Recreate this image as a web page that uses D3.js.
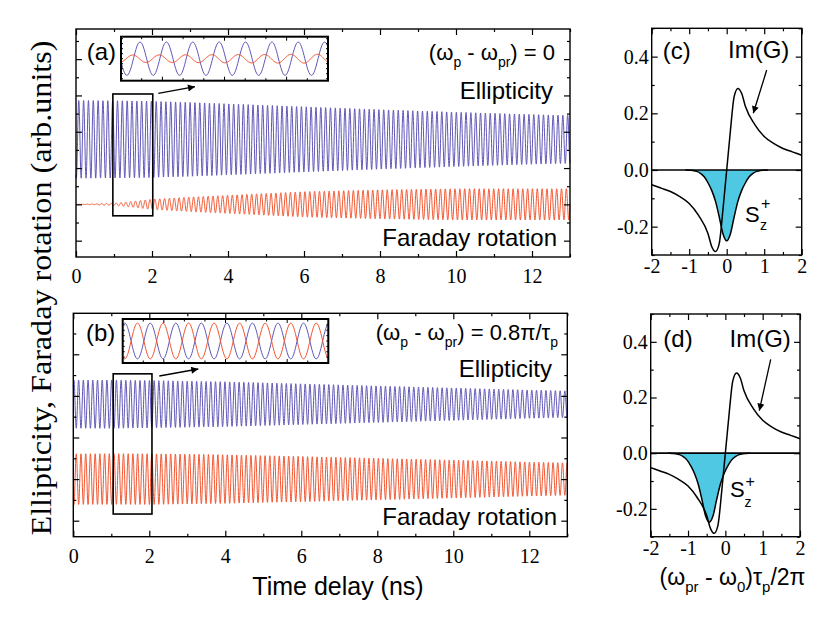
<!DOCTYPE html>
<html>
<head>
<meta charset="utf-8">
<script src="https://cdn.jsdelivr.net/npm/d3@7"></script>
<style>
body { margin: 0; background: #fff; }
</style>
</head>
<body>
<script>
// ---- values ----
// envelope of the oscillations (arb. units) at these delays (ns)
var tEnv   = [0, 0.5, 1, 1.5, 2, 3, 4, 6, 8, 10, 12, 13];
var ellipA = [1.07, 1.07, 1.065, 1.06, 1.05, 1.02, 0.98, 0.90, 0.82, 0.75, 0.685, 0.66];
var faradA = [0, 0.01, 0.03, 0.08, 0.14, 0.20, 0.25, 0.35, 0.40, 0.43, 0.43, 0.43];
var ellipB = [0.58, 0.58, 0.58, 0.575, 0.57, 0.555, 0.54, 0.49, 0.44, 0.39, 0.34, 0.32];
var faradB = [0.61, 0.61, 0.61, 0.61, 0.61, 0.60, 0.585, 0.545, 0.50, 0.457, 0.41, 0.39];
var centers = {ellipA: 2.79, faradA: 1.0, ellipB: 2.8, faradB: 1.0};
// carrier: cycles per ns and time of a maximum, counted on the insets
var freqA = 7.85, peakEllA = 1.092, peakFarA = 1.057;
var freqB = 8.05, peakEllB = 1.134, peakFarB = 1.072;
// insets (1..2 ns, rescaled)
var insetT = [1, 2];
var insetFarA = [0.22, 0.27];

// (c),(d): Im(G) and S_z+ against (w_pr - w_0) tau_p / 2pi
var imGX = [-2, -1.75, -1.5, -1.25, -1, -0.75, -0.5, -0.4, -0.3, -0.2, -0.1, -0.05, 0, 0.05, 0.1, 0.2, 0.3, 0.4, 0.5, 0.75, 1, 1.25, 1.5, 1.75, 2];
var imG  = [-0.052, -0.064, -0.076, -0.094, -0.118, -0.16, -0.224, -0.27, -0.288, -0.26, -0.14, -0.07, 0, 0.07, 0.14, 0.26, 0.288, 0.27, 0.224, 0.16, 0.118, 0.094, 0.076, 0.064, 0.052];
var szCX = [-1.1, -1, -0.9, -0.8, -0.7, -0.6, -0.5, -0.4, -0.3, -0.2, -0.1, 0, 0.1, 0.2, 0.3, 0.4, 0.5, 0.6, 0.7, 0.8, 0.9, 1, 1.1];
var szC  = [0, -0.001, -0.002, -0.005, -0.012, -0.024, -0.045, -0.072, -0.11, -0.165, -0.225, -0.25, -0.225, -0.165, -0.11, -0.072, -0.045, -0.024, -0.012, -0.005, -0.002, -0.001, 0];
var szDX = [-1.53, -1.43, -1.33, -1.23, -1.13, -1.03, -0.93, -0.83, -0.73, -0.63, -0.53, -0.43, -0.33, -0.23, -0.13, -0.03, 0.07, 0.17, 0.27, 0.37, 0.47, 0.57, 0.67];
var szD  = [0, -0.001, -0.002, -0.005, -0.012, -0.024, -0.045, -0.072, -0.11, -0.165, -0.225, -0.248, -0.225, -0.165, -0.11, -0.072, -0.045, -0.024, -0.012, -0.005, -0.002, -0.001, 0];

var timeTicks = [0, 2, 4, 6, 8, 10, 12],
    timeMinor = [1, 3, 5, 7, 9, 11, 13],
    detTicks = [-2, -1, 0, 1, 2],
    detMinor = [-1.5, -0.5, 0.5, 1.5],
    gTicks = [0.4, 0.2, 0.0, -0.2],
    gMinor = [0.5, 0.3, 0.1, -0.1, -0.3];

var sans = "'Liberation Sans', Arial, Helvetica, sans-serif",
    serif = "'Liberation Serif', 'Times New Roman', serif";
var blue = "#6057b8", red = "#f4552f", cyan = "#4fc8e3";

var svg = d3.select("body").append("svg")
    .attr("width", 830)
    .attr("height", 626)
    .style("background", "#fff");

svg.append("defs").append("marker")
    .attr("id", "head")
    .attr("viewBox", "0 0 10 10")
    .attr("refX", 10).attr("refY", 5)
    .attr("markerWidth", 10).attr("markerHeight", 7)
    .attr("markerUnits", "userSpaceOnUse")
    .attr("orient", "auto")
  .append("path")
    .attr("d", "M0,0 L10,5 L0,10 Z")
    .attr("fill", "#000");

// text with subscripts: parts = [[string, "sub"|""], ...]
function richText(x, y, anchor, size, parts) {
    var t = svg.append("text")
        .attr("x", x).attr("y", y)
        .attr("text-anchor", anchor)
        .attr("font-family", sans)
        .attr("font-size", size);
    var shift = 0;
    parts.forEach(function(p) {
        var want = p[1] === "sub" ? Math.round(size * 0.3) : 0;
        var ts = t.append("tspan").attr("dy", want - shift).text(p[0]);
        if (p[1] === "sub") ts.attr("font-size", Math.round(size * 0.65));
        shift = want;
    });
    return t;
}

function label(x, y, anchor, size, str) {
    return svg.append("text")
        .attr("x", x).attr("y", y)
        .attr("text-anchor", anchor)
        .attr("font-family", sans)
        .attr("font-size", size)
        .text(str);
}

function arrow(x1, y1, x2, y2) {
    svg.append("line")
        .attr("x1", x1).attr("y1", y1).attr("x2", x2).attr("y2", y2)
        .attr("stroke", "#000").attr("stroke-width", 1.3)
        .attr("marker-end", "url(#head)");
}

function styleAxis(g, size) {
    g.select(".domain").remove();
    g.selectAll("line").attr("stroke-width", 1.2);
    g.attr("font-family", serif).attr("font-size", size);
    g.selectAll("text").attr("fill", "#000");
}

// frame with inward ticks on all sides
function frame(p, x, y, xMaj, xMin, yMaj, yMin, opts) {
    svg.append("g").attr("transform", "translate(0," + p.bottom + ")")
        .call(d3.axisBottom(x).tickValues(xMaj).tickSize(-6).tickPadding(opts.xPad)
              .tickFormat(function(d) { return String(d).replace("\u2212", "-"); }))
        .call(styleAxis, opts.size);
    svg.append("g").attr("transform", "translate(0," + p.bottom + ")")
        .call(d3.axisBottom(x).tickValues(xMin).tickSize(-3).tickFormat(""))
        .call(styleAxis, opts.size);
    svg.append("g").attr("transform", "translate(0," + p.top + ")")
        .call(d3.axisTop(x).tickValues(xMaj).tickSize(-6).tickFormat(""))
        .call(styleAxis, opts.size);
    svg.append("g").attr("transform", "translate(0," + p.top + ")")
        .call(d3.axisTop(x).tickValues(xMin).tickSize(-3).tickFormat(""))
        .call(styleAxis, opts.size);
    var yl = d3.axisLeft(y).tickValues(yMaj).tickSize(-6).tickPadding(opts.yPad);
    if (opts.yFormat) yl.tickFormat(opts.yFormat); else yl.tickFormat("");
    svg.append("g").attr("transform", "translate(" + p.left + ",0)")
        .call(yl).call(styleAxis, opts.size);
    svg.append("g").attr("transform", "translate(" + p.left + ",0)")
        .call(d3.axisLeft(y).tickValues(yMin).tickSize(-3).tickFormat(""))
        .call(styleAxis, opts.size);
    svg.append("g").attr("transform", "translate(" + p.right + ",0)")
        .call(d3.axisRight(y).tickValues(yMaj).tickSize(-6).tickFormat(""))
        .call(styleAxis, opts.size);
    svg.append("g").attr("transform", "translate(" + p.right + ",0)")
        .call(d3.axisRight(y).tickValues(yMin).tickSize(-3).tickFormat(""))
        .call(styleAxis, opts.size);
    svg.append("rect")
        .attr("x", p.left).attr("y", p.top)
        .attr("width", p.right - p.left).attr("height", p.bottom - p.top)
        .attr("fill", "none").attr("stroke", "#000").attr("stroke-width", 1.4);
}

// oscillation: center + envelope(t) * cos(2 pi f (t - tPeak))
function wave(center, amps, freq, tPeak, t0, t1, envT) {
    var env = d3.scaleLinear().domain(envT || tEnv).range(amps).clamp(true);
    var pts = [];
    for (var t = t0; t <= t1 + 1e-9; t += 0.004) {
        pts.push([t, center + env(t) * Math.cos(2 * Math.PI * freq * (t - tPeak))]);
    }
    return pts;
}

// ---------- time panels (a) and (b) ----------
var panels = [
    {id: "a", left: 76, right: 570, top: 29, bottom: 257, yDom: [-0.45, 5.83],
     ell: ellipA, far: faradA, cE: centers.ellipA, cF: centers.faradA,
     f: freqA, pE: peakEllA, pF: peakFarA,
     inset: {left: 121, right: 328, top: 36.7, bottom: 80.7, dom: 1.32, farAmp: insetFarA},
     box: [0.97, 2.02, 0.685, 4.04], arrow: [158.3, 93.3, 195, 86.7]},
    {id: "b", left: 73.3, right: 567.3, top: 313.3, bottom: 536.7, yDom: [-0.385, 4.985],
     ell: ellipB, far: faradB, cE: centers.ellipB, cF: centers.faradB,
     f: freqB, pE: peakEllB, pF: peakFarB,
     inset: {left: 122.7, right: 328.3, top: 319, bottom: 363, dom: 1.23, farAmp: [1, 1]},
     box: [1.05, 2.07, 0.16, 3.53], arrow: [159.3, 376, 198.3, 369]}
];

panels.forEach(function(p) {
    var x = d3.scaleLinear().domain([0, 13]).range([p.left, p.right]);
    var y = d3.scaleLinear().domain(p.yDom).range([p.bottom, p.top]);
    var line = d3.line().x(function(d) { return x(d[0]); }).y(function(d) { return y(d[1]); });

    svg.append("path").datum(wave(p.cE, p.ell, p.f, p.pE, 0, 13))
        .attr("d", line).attr("fill", "none").attr("stroke", blue).attr("stroke-width", 1);
    svg.append("path").datum(wave(p.cF, p.far, p.f, p.pF, 0, 13))
        .attr("d", line).attr("fill", "none").attr("stroke", red).attr("stroke-width", 1);

    frame(p, x, y, timeTicks, timeMinor,
          d3.range(0, p.yDom[1], 1), d3.range(0.5, p.yDom[1], 1),
          {size: 20, xPad: 12, yPad: 3});

    // zoom box and arrow
    svg.append("rect")
        .attr("x", x(p.box[0])).attr("y", y(p.box[3]))
        .attr("width", x(p.box[1]) - x(p.box[0])).attr("height", y(p.box[2]) - y(p.box[3]))
        .attr("fill", "none").attr("stroke", "#000").attr("stroke-width", 1.6);
    arrow(p.arrow[0], p.arrow[1], p.arrow[2], p.arrow[3]);

    // inset: 1..2 ns, both traces centered
    var ins = p.inset;
    var xi = d3.scaleLinear().domain(insetT).range([ins.left, ins.right]);
    var yi = d3.scaleLinear().domain([-ins.dom, ins.dom]).range([ins.bottom, ins.top]);
    var li = d3.line().x(function(d) { return xi(d[0]); }).y(function(d) { return yi(d[1]); });
    svg.append("rect")
        .attr("x", ins.left).attr("y", ins.top)
        .attr("width", ins.right - ins.left).attr("height", ins.bottom - ins.top)
        .attr("fill", "#fff");
    svg.append("path").datum(wave(0, [1, 1], p.f, p.pE, 1, 2, insetT))
        .attr("d", li).attr("fill", "none").attr("stroke", blue).attr("stroke-width", 1);
    svg.append("path").datum(wave(0, ins.farAmp, p.f, p.pF, 1, 2, insetT))
        .attr("d", li).attr("fill", "none").attr("stroke", red).attr("stroke-width", 1);
    var tickG = svg.append("g").attr("stroke", "#000").attr("stroke-width", 1);
    d3.range(1.1, 2, 0.1).forEach(function(t) {
        var len = Math.abs(t - 1.5) < 0.01 || Math.abs(t - 1.2) < 0.01 || Math.abs(t - 1.8) < 0.01 ? 4 : 2.5;
        tickG.append("line").attr("x1", xi(t)).attr("x2", xi(t)).attr("y1", ins.bottom).attr("y2", ins.bottom - len);
        tickG.append("line").attr("x1", xi(t)).attr("x2", xi(t)).attr("y1", ins.top).attr("y2", ins.top + len);
    });
    d3.range(-1.2, 1.21, 0.3).forEach(function(v) {
        tickG.append("line").attr("x1", ins.left).attr("x2", ins.left + 2).attr("y1", yi(v)).attr("y2", yi(v));
        tickG.append("line").attr("x1", ins.right).attr("x2", ins.right - 2).attr("y1", yi(v)).attr("y2", yi(v));
    });
    svg.append("rect")
        .attr("x", ins.left).attr("y", ins.top)
        .attr("width", ins.right - ins.left).attr("height", ins.bottom - ins.top)
        .attr("fill", "none").attr("stroke", "#000").attr("stroke-width", 2);
});

// panel texts
label(86.7, 60, "start", 24, "(a)");
richText(555, 60, "end", 22, [["(\u03c9", ""], ["p", "sub"], [" - \u03c9", ""], ["pr", "sub"], [") = 0", ""]]);
label(553, 99, "end", 24, "Ellipticity");
label(557, 246, "end", 24, "Faraday rotation");

label(86, 341, "start", 24, "(b)");
richText(558, 340, "end", 22, [["(\u03c9", ""], ["p", "sub"], [" - \u03c9", ""], ["pr", "sub"], [") = 0.8\u03c0/\u03c4", ""], ["p", "sub"]]);
label(552, 377, "end", 24, "Ellipticity");
label(557, 525, "end", 24, "Faraday rotation");

label(338, 595, "middle", 25, "Time delay (ns)");

svg.append("text")
    .attr("transform", "translate(51,288) rotate(-90)")
    .attr("text-anchor", "middle")
    .attr("font-family", serif)
    .attr("font-size", 30)
    .attr("textLength", 495)
    .attr("lengthAdjust", "spacingAndGlyphs")
    .text("Ellipticity, Faraday rotation (arb.units)");

// ---------- spectral panels (c) and (d) ----------
var spec = [
    {left: 651.7, right: 801.7, top: 28.3, bottom: 255, szX: szCX, sz: szC},
    {left: 650.7, right: 800, top: 314, bottom: 536.7, szX: szDX, sz: szD}
];

spec.forEach(function(p) {
    var x = d3.scaleLinear().domain([-2, 2]).range([p.left, p.right]);
    var y = d3.scaleLinear().domain([-0.3, 0.5]).range([p.bottom, p.top]);
    var szData = p.szX.map(function(v, i) { return [v, p.sz[i]]; });
    var gData = imGX.map(function(v, i) { return [v, imG[i]]; });

    svg.append("path").datum(szData)
        .attr("d", d3.area().curve(d3.curveMonotoneX)
            .x(function(d) { return x(d[0]); }).y0(y(0)).y1(function(d) { return y(d[1]); }))
        .attr("fill", cyan);
    svg.append("path").datum(szData)
        .attr("d", d3.line().curve(d3.curveMonotoneX)
            .x(function(d) { return x(d[0]); }).y(function(d) { return y(d[1]); }))
        .attr("fill", "none").attr("stroke", "#000").attr("stroke-width", 1.5);
    svg.append("path").datum(gData)
        .attr("d", d3.line().curve(d3.curveMonotoneX)
            .x(function(d) { return x(d[0]); }).y(function(d) { return y(d[1]); }))
        .attr("fill", "none").attr("stroke", "#000").attr("stroke-width", 1.5);
    svg.append("line")
        .attr("x1", x(-2)).attr("x2", x(2)).attr("y1", y(0)).attr("y2", y(0))
        .attr("stroke", "#000").attr("stroke-width", 1.7);

    frame(p, x, y, detTicks, detMinor, gTicks, gMinor,
          {size: 20, xPad: 4, yPad: 3,
           yFormat: function(d) { return d3.format(".1f")(d).replace("\u2212", "-"); }});
});

label(662.7, 59, "start", 24, "(c)");
label(728, 58.3, "start", 24, "Im(G)");
arrow(766.7, 70, 753.3, 113.3);
label(745, 221.7, "start", 22, "S");
label(760, 230, "start", 14, "z");
label(761, 209, "start", 16, "+");

label(663.3, 346.7, "start", 24, "(d)");
label(729.5, 346.7, "start", 24, "Im(G)");
arrow(770.7, 359.3, 759.3, 410.7);
label(730, 496.7, "start", 22, "S");
label(744.5, 506.7, "start", 14, "z");
label(745.5, 487, "start", 16, "+");

richText(732.5, 585, "middle", 23, [["(\u03c9", ""], ["pr", "sub"], [" - \u03c9", ""], ["0", "sub"], [")\u03c4", ""], ["p", "sub"], ["/2\u03c0", ""]]);
</script>
</body>
</html>
